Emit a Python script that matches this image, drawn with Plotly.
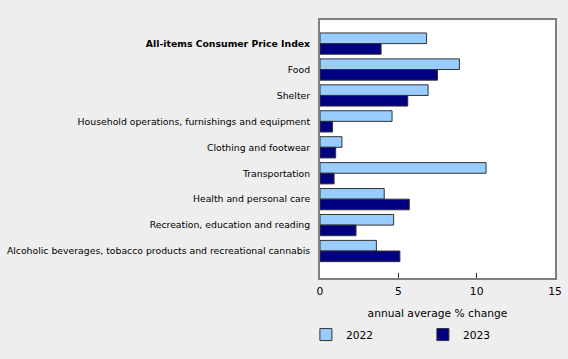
import plotly.graph_objects as go

categories = [
    "<b>All-items Consumer Price Index</b>",
    "Food",
    "Shelter",
    "Household operations, furnishings and equipment",
    "Clothing and footwear",
    "Transportation",
    "Health and personal care",
    "Recreation, education and reading",
    "Alcoholic beverages, tobacco products and recreational cannabis",
]
values_2022 = [6.8, 8.9, 6.9, 4.6, 1.4, 10.6, 4.1, 4.7, 3.6]
values_2023 = [3.9, 7.5, 5.6, 0.8, 1.0, 0.9, 5.7, 2.3, 5.1]
x_ticks = [0, 5, 10, 15]

fig = go.Figure()
fig.add_trace(go.Bar(
    y=categories, x=values_2022, name="2022", orientation="h",
    marker=dict(color="#99ccff", line=dict(color="#333333", width=1)),
))
fig.add_trace(go.Bar(
    y=categories, x=values_2023, name="2023", orientation="h",
    marker=dict(color="#000080", line=dict(color="#333333", width=1)),
))

fig.update_layout(
    width=568, height=359,
    paper_bgcolor="#eeeeee", plot_bgcolor="#ffffff",
    margin=dict(l=320, r=13, t=20, b=81, autoexpand=False),
    barmode="group", bargap=0.18, bargroupgap=0,
    font=dict(family="DejaVu Sans", size=9.3, color="#000000"),
    showlegend=True,
    legend=dict(
        orientation="h", x=-0.06, xref="paper", y=-0.163, yanchor="top",
        xanchor="left", font=dict(size=10.7), entrywidth=72,
        bgcolor="rgba(0,0,0,0)", traceorder="normal",
    ),
    xaxis=dict(
        range=[0, 15], tickvals=x_ticks, ticks="inside", ticklen=5,
        tickcolor="#333333", showgrid=False, zeroline=False,
        showline=True, linecolor="#7f7f7f", linewidth=2, mirror=True,
        tickfont=dict(size=10.7), ticklabelstandoff=2,
        title=dict(text="annual average % change", font=dict(size=10.7), standoff=13),
    ),
    yaxis=dict(
        range=[9.04, -0.91], showgrid=False, zeroline=False,
        showline=True, linecolor="#7f7f7f", linewidth=2, mirror=True,
        ticks="", ticklabelstandoff=6, tickfont=dict(size=9.3),
    ),
)

fig.write_html("out.html", config={"displayModeBar": False})

with open("out.html", "r", encoding="utf-8") as f:
    html = f.read()
html = html.replace("<head>", "<head><style>html,body{margin:0;padding:0;overflow:hidden;}</style>", 1)
with open("out.html", "w", encoding="utf-8") as f:
    f.write(html)
